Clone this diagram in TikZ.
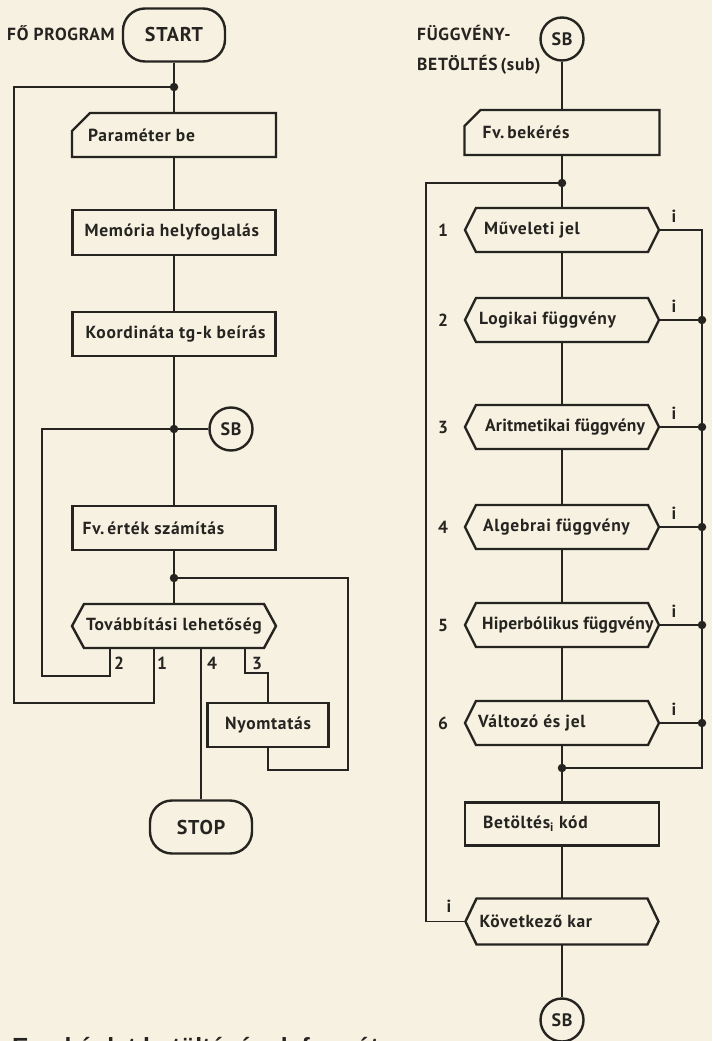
\documentclass[tikz,border=0pt]{standalone}
\usepackage{fontspec}
\setmainfont{PT Sans}[LetterSpace=4]
\newfontfamily\capfont{Liberation Sans}
\usetikzlibrary{calc}
\definecolor{paper}{RGB}{246,241,224}
\definecolor{ink}{RGB}{38,36,33}
\newcommand\hexdraw[2]{\draw[shp] ([xshift=#2pt]#1.north west) -- ([xshift=-#2pt]#1.north east) -- (#1.east) -- ([xshift=-#2pt]#1.south east) -- ([xshift=#2pt]#1.south west) -- (#1.west) -- cycle;}
\newcommand\cutdraw[2]{\draw[shp] (#1.north east) -- (#1.south east) -- (#1.south west) -- ([yshift=-#2pt]#1.north west) -- ([xshift=#2pt]#1.north west) -- cycle;}
\newcommand\tight[1]{{\addfontfeatures{LetterSpace=1}#1}}
\begin{document}
\begin{tikzpicture}[x=1pt,y=-1pt,
 conn/.style={draw=ink,line width=1.1pt},
 fmark/.style={draw=ink,line width=2.8pt},
 shp/.style={draw=ink,line width=2.4pt,line join=miter},
 boxn/.style={shp,rectangle,outer sep=0pt,inner sep=0pt},
 ghost/.style={rectangle,outer sep=0pt,inner sep=0pt},
 txt/.style={text=ink,font=\bfseries\fontsize{17.5}{19}\selectfont,inner sep=0pt,anchor=west},
 lbl/.style={text=ink,font=\bfseries\fontsize{17.5}{19}\selectfont,inner sep=0pt},
 term/.style={shp,rectangle,rounded corners=22pt,minimum width=102pt,minimum height=53pt,text=ink,font=\bfseries\fontsize{20}{22}\selectfont},
 cnode/.style={shp,circle,minimum size=43pt,inner sep=0pt,text=ink,font=\bfseries\fontsize{18}{20}\selectfont},
 dot/.style={circle,fill=ink,inner sep=0pt,minimum size=8.5pt},
]
\path[use as bounding box,fill=paper] (0,0) rectangle (712,1041);
\clip (0,0) rectangle (712,1041);

% ---------------- left: main program ----------------
\node[txt] (fotitle) at (7,33) {FŐ PROGRAM};
\node[term] (start) at (174,35) {START};
\coordinate (j1) at (174,87);
\node[ghost,minimum width=204pt,minimum height=44pt] (param) at (174,135) {};
\cutdraw{param}{18}
\node[txt] (paramt) at ([xshift=16pt]param.west) {Paraméter be};
\node[boxn,minimum width=203pt,minimum height=45pt] (mem) at (174,232.5) {};
\node[txt] (memt) at ([xshift=12pt]mem.west) {Memória helyfoglalás};
\node[boxn,minimum width=203pt,minimum height=44pt] (koord) at (174,334) {};
\node[txt] (koordt) at ([xshift=13pt]koord.west) {Koordináta tg-k beírás};
\coordinate (j2) at (174,429);
\node[cnode] (sbl) at (231,429) {SB};
\node[boxn,minimum width=203pt,minimum height=44pt] (fv) at (174,528) {};
\node[txt] (fvt) at ([xshift=10pt]fv.west) {Fv.\,érték számítás};
\coordinate (j3) at (174,578);
\node[ghost,minimum width=204pt,minimum height=44pt] (dec) at (174,626) {};
\hexdraw{dec}{12}
\node[txt] (dect) at ([xshift=14pt]dec.west) {Továbbítási lehetőség};
\coordinate (b2) at (110,648);
\coordinate (b1) at (154,648);
\coordinate (b4) at (201,648);
\coordinate (b3) at (245,648);
\node[boxn,minimum width=121pt,minimum height=44pt] (nyom) at (268,725) {};
\node[lbl] (nyomt) at (nyom.center) {Nyomtatás};
\node[term] (stop) at (201,827) {STOP};

\node[lbl] (l2) at (119,663) {2};
\node[lbl] (l1) at (162,663) {1};
\node[lbl] (l4) at (212,663) {4};
\node[lbl] (l3) at (257,663) {3};

\draw[conn] (start.south) -- (j1) -- (param.north);
\draw[conn] (param.south) -- (mem.north);
\draw[conn] (mem.south) -- (koord.north);
\draw[conn] (koord.south) -- (j2) -- (fv.north);
\draw[conn] (sbl.west) -- (j2);
\draw[conn] (fv.south) -- (j3) -- (dec.north);
\draw[conn] (b2) |- (42,676) |- (j2);
\draw[conn] (b1) |- (14,703) |- (j1);
\draw[conn] (b4) -- (stop.north);
\draw[conn] (b3) |- (268,673) -- (nyom.north);
\draw[conn] (nyom.south) |- (348,770) |- (j3);
\node[dot] (dj1) at (j1) {};
\node[dot] (dj2) at (j2) {};
\node[dot] (dj3) at (j3) {};

\draw[fmark] (174,96) -- (174,108);
\draw[fmark] (155,87) -- (169,87);
\draw[fmark] (174,192) -- (174,206);
\draw[fmark] (174,294) -- (174,308);
\draw[fmark] (155,429) -- (169,429);
\draw[fmark] (195,429) -- (208,429);
\draw[fmark] (174,492) -- (174,504);
\draw[fmark] (174,588) -- (174,601);
\draw[fmark] (110,652) -- (110,666);
\draw[fmark] (154,685) -- (154,698);
\draw[fmark] (268,690) -- (268,702);
\draw[fmark] (268,749) -- (268,761);
\draw[fmark] (201,785) -- (201,799);

% ---------------- right: subroutine ----------------
\node[txt] (ft1) at (417,33) {FÜGGVÉNY-};
\node[txt] (ft2) at (417,65) {BETÖLTÉS\,(sub)};
\node[cnode] (sbt) at (562,39) {SB};
\node[ghost,minimum width=195pt,minimum height=45pt] (bek) at (562,132.5) {};
\cutdraw{bek}{16}
\node[txt] (bekt) at ([xshift=18pt]bek.west) {Fv.\,bekérés};
\coordinate (j4) at (562,183);
\foreach \n/\y/\t/\o in {1/230/{Műveleti jel}/19, 2/320/{Logikai függvény}/14, 3/427/{\tight{Aritmetikai függvény}}/20, 4/527/{Algebrai függvény}/18, 5/625/{\tight{Hiperbólikus függvény}}/17, 6/723/{Változó és jel}/13}{
  \node[ghost,minimum width=194pt,minimum height=44pt] (h\n) at (562,\y) {};
  \hexdraw{h\n}{11}
  \node[txt] (h\n t) at ([xshift=\o pt]h\n.west) {\t};
  \node[lbl] (num\n) at (443,\y) {\n};
  \node[lbl] (i\n) at (674,\y-14) {i};
}
\coordinate (j5) at (562,768);
\node[boxn,minimum width=194pt,minimum height=43pt] (bet) at (562,824) {};
\node[txt] (bett) at ([xshift=18pt]bet.west) {Betöltés$_{\mathbf{i}}$ kód};
\node[ghost,minimum width=193pt,minimum height=46pt] (kov) at (562,921.5) {};
\hexdraw{kov}{11}
\node[txt] (kovt) at ([xshift=14pt]kov.west) {Következő kar};
\node[lbl] (ik) at (449,906) {i};
\node[cnode] (sbb) at (562,1020) {SB};

\draw[conn] (sbt.south) -- (bek.north);
\draw[conn] (bek.south) -- (j4) -- (h1.north);
\draw[conn] (h1.south) -- (h2.north);
\draw[conn] (h2.south) -- (h3.north);
\draw[conn] (h3.south) -- (h4.north);
\draw[conn] (h4.south) -- (h5.north);
\draw[conn] (h5.south) -- (h6.north);
\draw[conn] (h6.south) -- (j5) -- (bet.north);
\draw[conn] (bet.south) -- (kov.north);
\draw[conn] (kov.south) -- (sbb.north);
\draw[conn] (kov.west) -| (426,183) -- (j4);
\draw[conn] (h1.east) -| (702,768) -- (j5);
\foreach \n/\y in {2/320,3/427,4/527,5/625,6/723}{
  \draw[conn] (h\n.east) -- (702,\y);
  \node[dot] (d\n) at (702,\y) {};
}
\node[dot] (dj4) at (j4) {};
\node[dot] (dj5) at (j5) {};

\draw[fmark] (562,93) -- (562,105);
\draw[fmark] (543,183) -- (556,183);
\draw[fmark] (562,195) -- (562,207);
\draw[fmark] (562,285) -- (562,296);
\draw[fmark] (562,388) -- (562,402);
\draw[fmark] (562,488) -- (562,502);
\draw[fmark] (562,587) -- (562,601);
\draw[fmark] (562,686) -- (562,698);
\draw[fmark] (567,768) -- (581,768);
\draw[fmark] (562,785) -- (562,797);
\draw[fmark] (562,879) -- (562,893);
\draw[fmark] (562,981) -- (562,994);

% ---------------- caption (cut by the page edge, as in the original) ----------------
\node[anchor=base west,inner sep=0pt,text=ink,font=\capfont\bfseries\fontsize{24.8}{26}\selectfont] (caption) at (12,1055) {Egy képlet betöltésének formátuma};
\end{tikzpicture}
\end{document}
